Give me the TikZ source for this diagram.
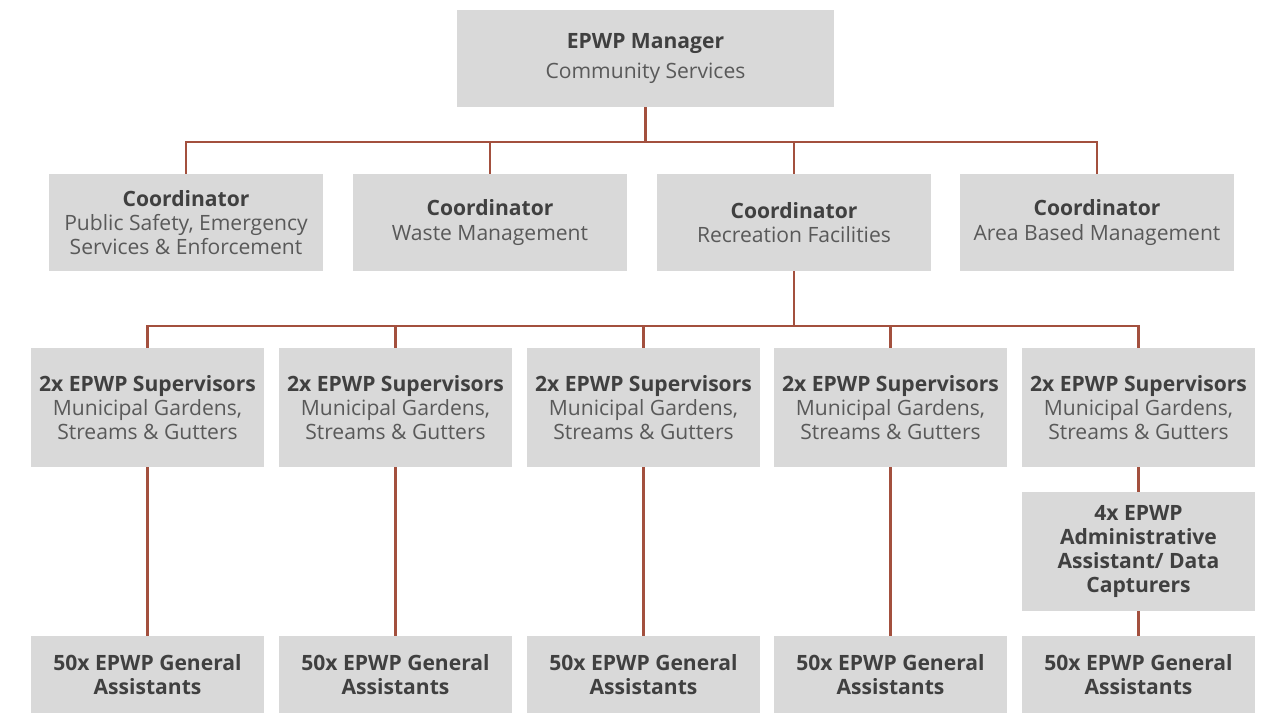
\documentclass[tikz,border=0pt]{standalone}
\usepackage{fontspec}
\setmainfont{Open Sans}
\usepackage{tikz}
\usetikzlibrary{positioning, calc}
\definecolor{boxgray}{RGB}{217,217,217}
\definecolor{txtdark}{RGB}{64,64,64}
\definecolor{txtsoft}{RGB}{89,89,89}
\definecolor{linkred}{RGB}{163,80,62}
\tikzset{
  orgbox/.style={rectangle, fill=boxgray, align=center, inner sep=2pt,
    font=\fontsize{12}{13.7}\selectfont\color{txtsoft}},
  mgrbox/.style={orgbox, minimum width=7.54cm, minimum height=1.94cm},
  coordbox/.style={orgbox, minimum width=5.48cm, minimum height=1.94cm},
  supbox/.style={orgbox, minimum width=4.66cm, minimum height=2.38cm},
  genbox/.style={orgbox, minimum width=4.66cm, minimum height=1.54cm},
  conn/.style={line width=1.5pt, color=linkred}
}
\newcommand{\hd}[1]{{\bfseries\color{txtdark}#1}}

\begin{document}
\begin{tikzpicture}[x=0.02cm, y=-0.02cm]
  \useasboundingbox (0,0) rectangle (1265,714);

  % ── Manager ────────────────────────────────────────────────────────────────
  \node[mgrbox] (mgr) at (645.5,58.5) {\hd{EPWP Manager}\\[3pt]Community Services};

  % ── Coordinators ───────────────────────────────────────────────────────────
  \node[coordbox] (coord1) at (186,222.5)
    {\hd{Coordinator}\\Public Safety, Emergency\\Services \& Enforcement};
  \node[coordbox] (coord2) at (490,222.5) {\hd{Coordinator}\\Waste Management};
  \node[coordbox] (coord3) at (794,222.5) {\hd{Coordinator}\\Recreation Facilities};
  \node[coordbox] (coord4) at (1097,222.5) {\hd{Coordinator}\\Area Based Management};

  % ── Supervisors and general assistants ─────────────────────────────────────
  \foreach \i/\x in {1/147.5, 2/395.5, 3/643.5, 4/890.5, 5/1138.5} {
    \node[supbox] (sup\i) at (\x,407.5)
      {\hd{2x EPWP Supervisors}\\Municipal Gardens,\\Streams \& Gutters};
    \node[genbox] (gen\i) at (\x,674.5) {\hd{50x EPWP General}\\\hd{Assistants}};
  }
  \node[supbox] (admin) at (1138.5,551.5)
    {\hd{4x EPWP}\\\hd{Administrative}\\\hd{Assistant/ Data}\\\hd{Capturers}};

  % ── Connectors ─────────────────────────────────────────────────────────────
  \coordinate (busA) at (0,142);
  \coordinate (busB) at (0,326);
  \draw[conn] (mgr.south) -- (mgr.south |- busA);
  \draw[conn] (coord1.north) |- (coord4.north |- busA) -- (coord4.north);
  \foreach \i in {2,3} \draw[conn] (coord\i.north) -- (coord\i.north |- busA);

  \draw[conn] (coord3.south) -- (coord3.south |- busB);
  \draw[conn] (sup1.north) |- (sup5.north |- busB) -- (sup5.north);
  \foreach \i in {2,3,4} \draw[conn] (sup\i.north) -- (sup\i.north |- busB);

  \foreach \i in {1,...,4} \draw[conn] (sup\i) -- (gen\i);
  \draw[conn] (sup5) -- (admin);
  \draw[conn] (admin) -- (gen5);
\end{tikzpicture}
\end{document}
